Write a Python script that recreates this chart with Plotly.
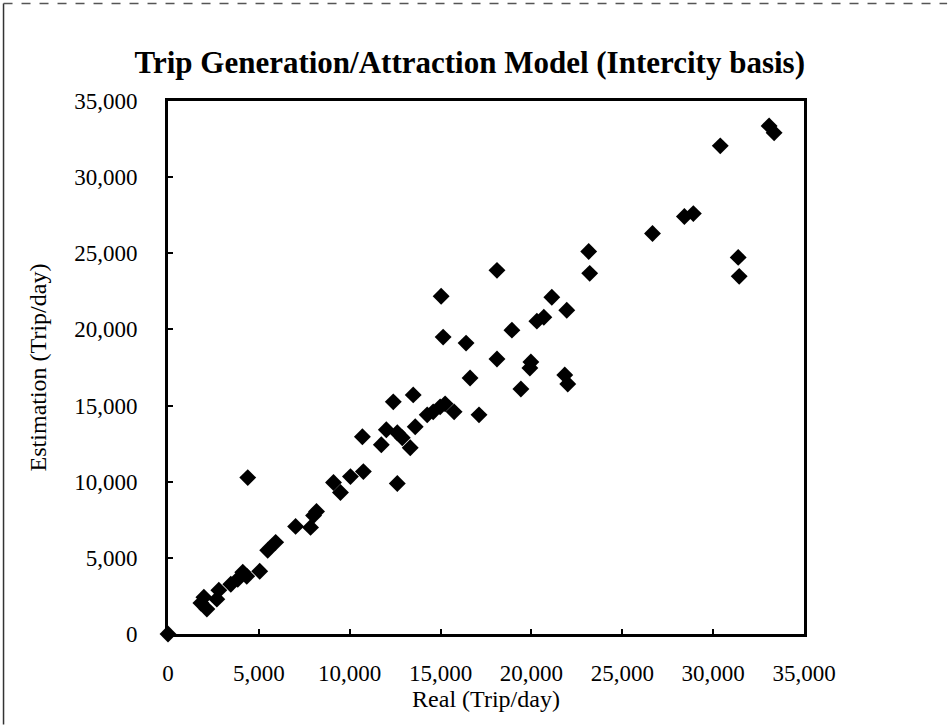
import plotly.graph_objects as go

real = [0, 1810, 2140, 1975, 2688, 2798, 3456, 3840, 4115, 4334, 5047, 5486, 5925,
        7022, 7845, 8174, 8010, 9107, 9491, 10040, 10752, 4389, 10698, 11740, 12015,
        12618, 12892, 13331, 12618, 12398, 13495, 13605, 14264, 14593, 14977, 15251,
        15745, 17116, 16623, 15032, 15141, 16403, 18104, 18104, 18927, 19421, 19970,
        19915, 20299, 20683, 21122, 21835, 22000, 21945, 23152, 23207, 26662, 28418,
        28911, 30392, 31379, 31434, 33080, 33355]
estimation = [0, 2028, 1636, 2420, 2290, 2878, 3271, 3598, 4056, 3794, 4121, 5495, 6019,
              7065, 7000, 8047, 7785, 9944, 9290, 10336, 10663, 10271, 12953, 12430, 13411,
              13215, 12888, 12234, 9878, 15243, 15701, 13608, 14392, 14589, 14916, 15112,
              14589, 14392, 16813, 22177, 19495, 19103, 18056, 23878, 19953, 16093, 17860,
              17467, 20542, 20803, 22112, 17009, 16420, 21261, 25121, 23682, 26299, 27411,
              27607, 32056, 24729, 23486, 33364, 32907]

tick_vals = [0, 5000, 10000, 15000, 20000, 25000, 30000, 35000]
tick_text = ["0", "5,000", "10,000", "15,000", "20,000", "25,000", "30,000", "35,000"]

FONT = "Liberation Serif"

fig = go.Figure()
fig.add_trace(go.Scatter(
    x=real, y=estimation, mode="markers",
    marker=dict(symbol="diamond", size=13, color="black"),
    cliponaxis=False, showlegend=False,
))

axis_common = dict(
    range=[0, 35000], tickvals=tick_vals, ticktext=tick_text,
    showgrid=False, zeroline=False, showline=True, linecolor="black", linewidth=3,
    mirror=True, ticks="inside", ticklen=5, tickwidth=1.5, tickcolor="black",
    tickfont=dict(family=FONT, size=23, color="black"),
)

fig.update_layout(
    width=949, height=726,
    margin=dict(l=168, r=145, t=101, b=92),
    paper_bgcolor="white", plot_bgcolor="white",
    title=dict(text="<b>Trip Generation/Attraction Model (Intercity basis)</b>",
               x=0.495, xanchor="center", y=0.915, yanchor="middle",
               font=dict(family=FONT, size=31, color="black")),
    xaxis=dict(**axis_common, title=dict(text="Real (Trip/day)", standoff=2,
                                         font=dict(family=FONT, size=24, color="black"))),
    yaxis=dict(**axis_common, title=dict(text="Estimation (Trip/day)", standoff=21,
                                         font=dict(family=FONT, size=24, color="black"))),
)
fig.update_xaxes(ticklabelstandoff=16)
fig.update_yaxes(ticklabelstandoff=23)

# scanned page border (left and top edges)
fig.add_shape(type="line", xref="paper", yref="paper",
              x0=-0.2586, x1=-0.2586, y0=1.183, y1=-0.170,
              line=dict(color="#333", width=1.5))
fig.add_shape(type="line", xref="paper", yref="paper",
              x0=-0.2586, x1=1.225, y0=1.183, y1=1.183,
              line=dict(color="#555", width=1.5, dash="dash"))

fig.write_html("out.html", config={"displayModeBar": False},
               post_script="document.body.style.margin='0px';")
